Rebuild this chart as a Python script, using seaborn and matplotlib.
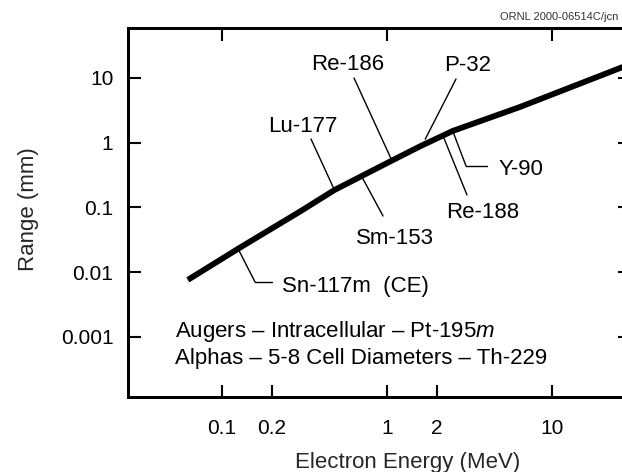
import numpy as np
import pandas as pd
import matplotlib
matplotlib.use("Agg")
import matplotlib.pyplot as plt
from matplotlib.ticker import FixedLocator, FixedFormatter, NullLocator
import seaborn as sns

# ---- data ----
energy_mev = [0.062, 0.125, 0.30, 0.48, 1.07, 1.6, 2.5, 6.4, 30.0]
range_mm = [0.0076, 0.023, 0.088, 0.186, 0.53, 0.89, 1.52, 3.57, 16.5]

isotopes = ["Sn-117m  (CE)", "Lu-177", "Sm-153", "Re-186", "P-32", "Re-188", "Y-90"]
isotope_energy = [0.125, 0.48, 0.70, 1.07, 1.63, 2.18, 2.5]

x_ticks = [0.1, 0.2, 1, 2, 10]
x_tick_labels = ["0.1", "0.2", "1", "2", "10"]
x_top_ticks = [0.1, 1, 10]
y_ticks = [0.001, 0.01, 0.1, 1, 10]
y_tick_labels = ["0.001", "0.01", "0.1", "1", "10"]

note_lines = [r"Augers – Intracellular – Pt-195$\mathit{m}$",
              "Alphas – 5-8 Cell Diameters – Th-229"]

# ---- style ----
sns.set_style("ticks")
plt.rcParams["font.family"] = ["Liberation Sans", "DejaVu Sans"]
plt.rcParams["mathtext.fontset"] = "custom"
plt.rcParams["mathtext.rm"] = "Liberation Sans"
plt.rcParams["mathtext.it"] = "Liberation Sans:italic"

fig = plt.figure(figsize=(6.22, 4.72), dpi=100)
ax = fig.add_axes([0.2058, 0.1589, 0.8071, 0.7818])

df = pd.DataFrame({"energy": energy_mev, "range": range_mm})
sns.lineplot(data=df, x="energy", y="range", ax=ax, color="black",
             linewidth=4.2, estimator=None, sort=False,
             solid_capstyle="butt", solid_joinstyle="round")

ax.set_xscale("log")
ax.set_yscale("log")
ax.set_xlim(0.0269, 29.7)
ax.set_ylim(1.18e-4, 59.2)

ax.xaxis.set_major_locator(FixedLocator(x_ticks))
ax.xaxis.set_major_formatter(FixedFormatter(x_tick_labels))
ax.xaxis.set_minor_locator(NullLocator())
ax.yaxis.set_major_locator(FixedLocator(y_ticks))
ax.yaxis.set_major_formatter(FixedFormatter(y_tick_labels))
ax.yaxis.set_minor_locator(NullLocator())

ax.tick_params(axis="both", direction="in", length=9, width=1.5,
               colors="black", labelsize=15)
ax.tick_params(axis="x", pad=15.5)
ax.tick_params(axis="y", pad=10.5, right=True)

for s in ax.spines.values():
    s.set_linewidth(2.0)
    s.set_color("black")

ax2 = ax.twiny()
ax2.set_xscale("log")
ax2.set_xlim(ax.get_xlim())
ax2.xaxis.set_major_locator(FixedLocator(x_top_ticks))
ax2.xaxis.set_minor_locator(NullLocator())
ax2.tick_params(axis="x", direction="in", length=9, width=1.5,
                labeltop=False, colors="black")
for s in ax2.spines.values():
    s.set_linewidth(2.0)
    s.set_color("black")

ax.set_xlabel("Electron Energy (MeV)", fontsize=16)
ax.set_ylabel("Range (mm)", fontsize=16)
ax.xaxis.set_label_coords(0.556, -0.149)
ax.yaxis.set_label_coords(-0.178, 0.51)

# ---- isotope leaders ----
log_e = np.log10(energy_mev)
log_r = np.log10(range_mm)
def on_curve(e):
    return 10 ** np.interp(np.log10(e), log_e, log_r)

# text position (axes fraction, left/baseline), leader outer point(s) (axes fraction)
layout = {
    "Sn-117m  (CE)": dict(text=(0.3068, 0.2846), path=[(0.2530, 0.3117), (0.2869, 0.3117)]),
    "Lu-177": dict(text=(0.2789, 0.7182), path=[(0.3645, 0.6992)]),
    "Sm-153": dict(text=(0.4542, 0.4146), path=[(0.5080, 0.4905)]),
    "Re-186": dict(text=(0.3645, 0.8862), path=[(0.4502, 0.8645)]),
    "P-32": dict(text=(0.6295, 0.8835), path=[(0.6534, 0.8618)], gap=5),
    "Re-188": dict(text=(0.6335, 0.4851), path=[(0.6753, 0.5474)]),
    "Y-90": dict(text=(0.7390, 0.6016), path=[(0.6733, 0.6260), (0.7151, 0.6260)]),
}

lw_leader = 1.0
for name, e in zip(isotopes, isotope_energy):
    spec = layout[name]
    r = on_curve(e)
    first = spec["path"][0]
    ax.annotate("", xy=(e, r), xycoords="data",
                xytext=first, textcoords="axes fraction",
                arrowprops=dict(arrowstyle="-", color="black", lw=lw_leader,
                                shrinkA=0, shrinkB=spec.get("gap", 0)))
    if len(spec["path"]) > 1:
        xs = [p[0] for p in spec["path"]]
        ys = [p[1] for p in spec["path"]]
        ax.plot(xs, ys, transform=ax.transAxes, color="black", lw=lw_leader)
    ax.text(spec["text"][0], spec["text"][1], name, transform=ax.transAxes,
            ha="left", va="baseline", fontsize=16, color="black")

# ---- notes ----
note_y = [0.1626, 0.0894]
for line, yy in zip(note_lines, note_y):
    ax.text(0.0936, yy, line, transform=ax.transAxes, ha="left",
            va="baseline", fontsize=16, color="black")

fig.text(0.994, 1 - 17 / 472, "ORNL 2000-06514C/jcn", ha="right", va="center",
         fontsize=8.0, color="#333333")

fig.savefig("out.png", dpi=100)
